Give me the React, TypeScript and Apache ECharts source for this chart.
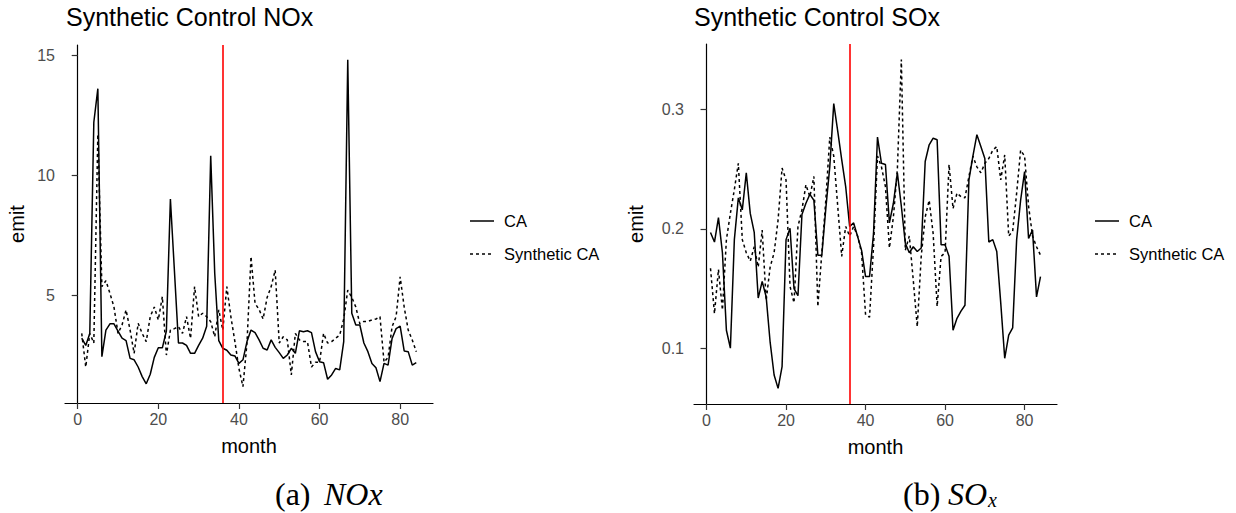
import React, { useEffect, useRef } from "react";
import * as echarts from "echarts";

const months = [
  1, 2, 3, 4, 5, 6, 7, 8, 9, 10, 11, 12, 13, 14, 15, 16, 17, 18, 19, 20, 21,
  22, 23, 24, 25, 26, 27, 28, 29, 30, 31, 32, 33, 34, 35, 36, 37, 38, 39, 40,
  41, 42, 43, 44, 45, 46, 47, 48, 49, 50, 51, 52, 53, 54, 55, 56, 57, 58, 59,
  60, 61, 62, 63, 64, 65, 66, 67, 68, 69, 70, 71, 72, 73, 74, 75, 76, 77, 78,
  79, 80, 81, 82, 83, 84,
];

const noxCA = [
  3.2, 2.9, 3.4, 12.2, 13.6, 2.43, 3.54, 3.8, 3.8, 3.5, 3.2, 3.1, 2.36, 2.3,
  2.0, 1.6, 1.3, 1.7, 2.4, 2.8, 2.8, 3.5, 9.0, 6.0, 3.0, 3.0, 2.9, 2.57, 2.57,
  2.9, 3.2, 3.7, 10.8, 5.9, 3.1, 2.78, 2.7, 2.5, 2.46, 2.15, 2.3, 3.06, 3.54,
  3.43, 3.13, 2.78, 2.71, 3.13, 2.82, 2.6, 2.36, 2.5, 2.78, 2.57, 3.51, 3.47,
  3.51, 3.43, 2.64, 2.22, 2.18, 1.49, 1.67, 1.94, 1.88, 3.06, 14.8, 4.24, 3.75,
  3.75, 3.0, 2.64, 2.15, 1.97, 1.39, 2.15, 2.08, 3.19, 3.6, 3.7, 2.67, 2.64,
  2.08, 2.18,
];

const noxSynth = [
  3.4, 2.0, 3.4, 3.0, 11.7, 5.35, 5.6, 5.07, 4.5, 3.4, 3.75, 4.38, 3.54, 2.57,
  3.82, 3.4, 3.06, 4.1, 4.5, 3.96, 4.93, 2.5, 3.54, 3.6, 3.68, 3.4, 4.1, 3.19,
  5.35, 4.1, 4.24, 4.1, 3.89, 3.26, 4.38, 3.54, 5.35, 4.1, 3.06, 1.94, 1.18,
  3.0, 6.6, 4.65, 4.4, 4.0, 4.9, 5.35, 6.04, 3.0, 3.26, 3.13, 1.67, 3.4, 3.13,
  3.06, 3.06, 2.0, 2.2, 2.2, 3.4, 3.0, 3.06, 3.2, 3.33, 4.0, 5.2, 4.9, 4.5, 3.8,
  3.9, 3.9, 3.96, 4.0, 4.1, 2.2, 2.4, 3.68, 4.1, 5.76, 4.5, 3.54, 3.13, 2.64,
];

const soxCA = [
  0.197, 0.189, 0.2095, 0.18, 0.115, 0.1, 0.191, 0.226, 0.216, 0.247, 0.213,
  0.197, 0.142, 0.156, 0.143, 0.105, 0.0775, 0.0663, 0.0845, 0.191, 0.2006,
  0.15, 0.144, 0.212, 0.2215, 0.229, 0.224, 0.178, 0.178, 0.217, 0.252, 0.305,
  0.282, 0.258, 0.2355, 0.202, 0.205, 0.1936, 0.182, 0.16, 0.16, 0.196, 0.277,
  0.255, 0.254, 0.205, 0.2215, 0.247, 0.219, 0.188, 0.18, 0.185, 0.181, 0.184,
  0.2565, 0.2705, 0.276, 0.2747, 0.1866, 0.1866, 0.177, 0.115, 0.125, 0.131,
  0.136, 0.241, 0.261, 0.279, 0.269, 0.259, 0.189, 0.191, 0.181, 0.138, 0.0915,
  0.111, 0.117, 0.191, 0.224, 0.248, 0.192, 0.199, 0.143, 0.16,
];

const soxSynth = [
  0.167, 0.129, 0.166, 0.132, 0.191, 0.213, 0.233, 0.255, 0.191, 0.18, 0.173,
  0.185, 0.168, 0.199, 0.14, 0.168, 0.18, 0.2075, 0.251, 0.241, 0.152, 0.138,
  0.202, 0.216, 0.237, 0.227, 0.244, 0.135, 0.18, 0.224, 0.277, 0.261, 0.219,
  0.177, 0.202, 0.194, 0.202, 0.194, 0.18, 0.128, 0.126, 0.185, 0.261, 0.252,
  0.2355, 0.184, 0.21, 0.25, 0.342, 0.182, 0.194, 0.157, 0.118, 0.177, 0.21,
  0.224, 0.196, 0.135, 0.177, 0.18, 0.254, 0.217, 0.23, 0.227, 0.226, 0.244,
  0.261, 0.252, 0.247, 0.255, 0.259, 0.266, 0.269, 0.241, 0.262, 0.194, 0.198,
  0.23, 0.266, 0.261, 0.219, 0.194, 0.185, 0.178,
];

const xTicks = [0, 20, 40, 60, 80];
const noxTicks = [5, 10, 15];
const soxTicks = [0.1, 0.2, 0.3];
const treatMonth = 36;
const titles = ["Synthetic Control NOx", "Synthetic Control SOx"];
const legendNames = ["CA", "Synthetic CA"];

const SANS = '"Liberation Sans", Arial, sans-serif';
const SERIF = '"Liberation Serif", "Times New Roman", serif';

export default function App() {
  const ref = useRef<HTMLDivElement>(null);

  useEffect(() => {
    const chart = echarts.init(ref.current!, null, {
      renderer: "svg",
      width: 1236,
      height: 513,
    });

    const pairs = (ys: number[]) => months.map((m, i) => [m, ys[i]]);

    const xAxisBase = (gridIndex: number) => ({
      type: "value",
      gridIndex,
      min: -3.15,
      max: 88.15,
      splitLine: { show: false },
      axisLine: { show: true, lineStyle: { color: "#000", width: 1.2 } },
      axisTick: {
        show: true,
        length: 6,
        customValues: xTicks,
        lineStyle: { color: "#333", width: 1.2 },
      },
      axisLabel: {
        customValues: xTicks,
        color: "#4D4D4D",
        fontSize: 16,
        fontFamily: SANS,
        margin: 8,
      },
      name: "month",
      nameLocation: "middle",
      nameGap: 33,
      nameTextStyle: { color: "#000", fontSize: 20, fontFamily: SANS },
    });

    const yAxisBase = (
      gridIndex: number,
      min: number,
      max: number,
      ticks: number[],
      gap: number
    ) => ({
      type: "value",
      gridIndex,
      min,
      max,
      splitLine: { show: false },
      axisLine: { show: true, lineStyle: { color: "#000", width: 1.2 } },
      axisTick: {
        show: true,
        length: 6,
        customValues: ticks,
        lineStyle: { color: "#333", width: 1.2 },
      },
      axisLabel: {
        customValues: ticks,
        color: "#4D4D4D",
        fontSize: 16,
        fontFamily: SANS,
        margin: 10,
      },
      name: "emit",
      nameLocation: "middle",
      nameGap: gap,
      nameTextStyle: { color: "#000", fontSize: 20, fontFamily: SANS },
    });

    const solidStyle = { color: "#000", width: 1.5, type: "solid" };
    const dashStyle = { color: "#000", width: 1.5, type: [3, 3] };
    const vline = {
      silent: true,
      symbol: ["none", "none"],
      label: { show: false },
      lineStyle: { color: "#FF0000", width: 1.6, type: "solid" },
      emphasis: { disabled: true },
      data: [{ xAxis: treatMonth }],
    };

    const legendGraphic = (x: number, tx: number) => [
      {
        type: "line",
        shape: { x1: x, y1: 221, x2: x + 24, y2: 221 },
        style: { stroke: "#000", lineWidth: 1.5 },
      },
      {
        type: "line",
        shape: { x1: x, y1: 254, x2: x + 24, y2: 254 },
        style: { stroke: "#000", lineWidth: 1.5, lineDash: [3, 3] },
      },
      {
        type: "text",
        x: tx,
        y: 221,
        style: {
          text: legendNames[0],
          fill: "#000",
          font: `16.5px ${SANS}`,
          align: "left",
          verticalAlign: "middle",
        },
      },
      {
        type: "text",
        x: tx,
        y: 254,
        style: {
          text: legendNames[1],
          fill: "#000",
          font: `16.5px ${SANS}`,
          align: "left",
          verticalAlign: "middle",
        },
      },
    ];

    const capText = (text: string, x: number, y: number, font: string) => ({
      type: "text",
      x,
      y,
      style: {
        text,
        fill: "#000",
        font,
        align: "left",
        verticalAlign: "middle",
      },
    });

    const option = {
      animation: false,
      backgroundColor: "#fff",
      title: [
        {
          text: titles[0],
          left: 66,
          top: 4,
          padding: 0,
          textStyle: {
            color: "#000",
            fontWeight: "normal",
            fontSize: 25,
            fontFamily: SANS,
          },
        },
        {
          text: titles[1],
          left: 694,
          top: 4,
          padding: 0,
          textStyle: {
            color: "#000",
            fontWeight: "normal",
            fontSize: 25,
            fontFamily: SANS,
          },
        },
      ],
      grid: [
        { left: 65, top: 45, width: 368, height: 358, containLabel: false },
        { left: 694, top: 44, width: 363, height: 360, containLabel: false },
      ],
      xAxis: [xAxisBase(0), xAxisBase(1)],
      yAxis: [
        yAxisBase(0, 0.5, 15.42, noxTicks, 38),
        yAxisBase(1, 0.0532, 0.355, soxTicks, 48),
      ],
      series: [
        {
          type: "line",
          name: "CA",
          xAxisIndex: 0,
          yAxisIndex: 0,
          data: pairs(noxCA),
          showSymbol: false,
          symbol: "none",
          lineStyle: solidStyle,
          silent: true,
        },
        {
          type: "line",
          name: "Synthetic CA",
          xAxisIndex: 0,
          yAxisIndex: 0,
          data: pairs(noxSynth),
          showSymbol: false,
          symbol: "none",
          lineStyle: dashStyle,
          silent: true,
          markLine: vline,
        },
        {
          type: "line",
          name: "CA",
          xAxisIndex: 1,
          yAxisIndex: 1,
          data: pairs(soxCA),
          showSymbol: false,
          symbol: "none",
          lineStyle: solidStyle,
          silent: true,
        },
        {
          type: "line",
          name: "Synthetic CA",
          xAxisIndex: 1,
          yAxisIndex: 1,
          data: pairs(soxSynth),
          showSymbol: false,
          symbol: "none",
          lineStyle: dashStyle,
          silent: true,
          markLine: vline,
        },
      ],
      graphic: [
        ...legendGraphic(470, 504),
        ...legendGraphic(1095, 1129),
        capText("(a)", 275, 494, `32px ${SERIF}`),
        capText("NOx", 324, 494, `italic 32px ${SERIF}`),
        capText("(b)", 903, 494, `32px ${SERIF}`),
        capText("SO", 948, 494, `italic 32px ${SERIF}`),
        capText("x", 988, 500, `italic 20px ${SERIF}`),
      ],
    };

    chart.setOption(option as any);
    return () => chart.dispose();
  }, []);

  return (
    <div
      ref={ref}
      style={{
        position: "fixed",
        left: 0,
        top: 0,
        width: 1236,
        height: 513,
        background: "#fff",
      }}
    />
  );
}
